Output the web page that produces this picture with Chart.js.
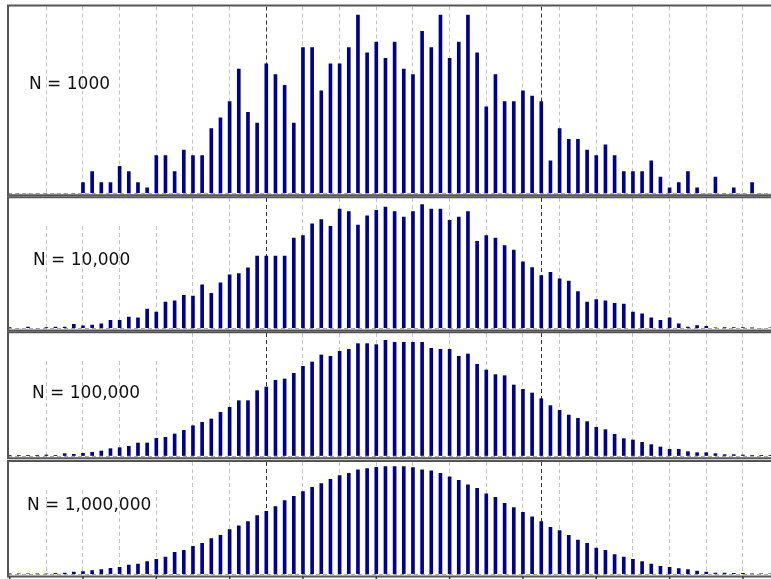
<!DOCTYPE html>
<html lang="en">
<head>
<meta charset="UTF-8">
<title>Histograms for growing sample size</title>
<style>
    html, body { margin: 0; padding: 0; background: #fff; }
    body { width: 771px; height: 579px; overflow: hidden; position: relative; }
    canvas { position: absolute; }
</style>
</head>
<body>
<canvas id="p1"></canvas>
<canvas id="p2"></canvas>
<canvas id="p3"></canvas>
<canvas id="p4"></canvas>

<script src="https://cdn.jsdelivr.net/npm/chart.js"></script>
<script>
// bin index of each bar, left to right
var bins = [-8, -7, -6, -5, -4, -3, -2, -1, 0, 1, 2, 3, 4, 5, 6, 7, 8, 9,
    10, 11, 12, 13, 14, 15, 16, 17, 18, 19, 20, 21, 22, 23, 24, 25, 26, 27, 28, 29,
    30, 31, 32, 33, 34, 35, 36, 37, 38, 39, 40, 41, 42, 43, 44, 45, 46, 47, 48, 49,
    50, 51, 52, 53, 54, 55, 56, 57, 58, 59, 60, 61, 62, 63, 64, 65, 66, 67, 68, 69,
    70, 71, 72, 73, 74, 75];

// dashed grid every 4 bins, darker lines at the two marked bins
var gridBins = [-4, 0, 4, 8, 12, 16, 20, 24, 28, 32, 36, 40, 44, 48, 50, 52, 56, 60, 64, 68, 72, 76];
var markedBins = [20, 50];
var tickBins = [-8, 0, 8, 16, 24, 32, 40, 48, 56, 64, 72];

var counts1000 = [0, 0, 0, 0, 0, 0, 0, 0,
    2, 4, 2, 2, 5, 4, 2, 1, 7, 7, 4, 8, 7, 7, 12, 14, 17, 23, 15, 13,
    24, 22, 20, 13, 27, 27, 19, 24, 24, 27, 33, 26, 28, 25, 28, 23, 22, 30, 27, 33,
    25, 28, 33, 26, 16, 22, 17,
    17, 19, 18, 17, 6, 12, 10, 10, 8, 7, 9, 7, 4, 4, 4, 6, 3, 1, 2, 4,
    1, 0, 3, 0, 1, 0, 2, 0, 0];

var counts10000 = [2, 0, 3, 0, 2, 3, 3, 10,
    6, 8, 11, 20, 20, 28, 26, 48, 40, 65,
    68, 82, 80, 108, 87, 113, 133, 136, 150, 179,
    179, 179, 179, 224, 230, 259, 270, 253, 296, 290,
    256, 279, 293, 301, 290, 276, 290, 307, 296, 296,
    268, 276, 290, 216, 230, 224, 205, 194, 165, 151,
    131, 139, 123, 117, 91, 65, 71, 68, 62, 60,
    40, 36, 26, 20, 26, 11, 3, 7, 5, 1,
    2, 2, 2, 1, 0, 1];

var counts100000 = [4, 9, 9, 9, 26, 17, 61, 43,
    70, 96, 130, 191, 217, 252, 339, 339, 461, 487,
    574, 670, 791, 878, 965, 1139, 1269, 1443, 1443, 1704,
    1800, 1974, 2009, 2156, 2339, 2452, 2635, 2600, 2730, 2782,
    2930, 2930, 2904, 3017, 2965, 2965, 2965, 2965, 2808, 2782,
    2782, 2600, 2661, 2391, 2243, 2122, 2095, 1852, 1739, 1643,
    1496, 1313, 1191, 1069, 983, 896, 748, 687, 565, 452,
    417, 356, 296, 235, 174, 174, 113, 87, 87, 61,
    35, 35, 26, 17, 9, 4];

var counts1000000 = [47, 94, 94, 94, 94, 281, 374, 655,
    749, 1029, 1310, 1684, 1965, 2620, 2901, 3556, 4211, 4866,
    6176, 6737, 7860, 8702, 10012, 10948, 12538, 13568, 14784, 16468,
    17685, 18995, 20679, 21895, 23205, 24422, 25451, 26667, 27697, 28352,
    29287, 29662, 30036, 30223, 30223, 30223, 29942, 29287, 29007, 28352,
    27322, 26387, 25077, 24141, 22550, 21615, 19930, 18714, 17404, 16094,
    14784, 13193, 12258, 10948, 9638, 8702, 7392, 6737, 5521, 4866,
    4211, 3556, 2901, 2246, 1965, 1591, 1310, 936, 655, 374,
    374, 281, 281, 94, 94, 94];

var panelLabels = ['N = 1000', 'N = 10,000', 'N = 100,000', 'N = 1,000,000'];
var panelMax = [34.6, 323.4, 3208, 31514];

// page layout of the four stacked frames
var panels = [
    { id: 'p1', counts: counts1000,    frameTop: 5.5,   chartTop: 6.5, baseline: 193.3, frameBottom: 195.3, labelX: 29, labelY: 85,  mask: false },
    { id: 'p2', counts: counts10000,   frameTop: 197.3, chartTop: 198, baseline: 328.3, frameBottom: 330.5, labelX: 33, labelY: 261, mask: true },
    { id: 'p3', counts: counts100000,  frameTop: 332.3, chartTop: 333, baseline: 456,   frameBottom: 458.3, labelX: 32, labelY: 394, mask: true },
    { id: 'p4', counts: counts1000000, frameTop: 461,   chartTop: 462, baseline: 574.3, frameBottom: 576.5, labelX: 27, labelY: 506, mask: true, ticks: true }
];

var canvasLeft = 6, canvasWidth = 820, areaLeft = 8;
var pxPerBin = 9.166;
var xMin = -8.18;
var xMax = xMin + (canvasLeft + canvasWidth - areaLeft) / pxPerBin;

var panelDeco = {
    id: 'panelDeco',
    beforeDatasetsDraw: function(chart, args, opts) {
        if (!opts.mask) return;
        var ctx = chart.ctx, a = chart.chartArea;
        ctx.save();
        ctx.fillStyle = '#fff';
        ctx.fillRect(a.left + 1, a.top, 165 - canvasLeft - a.left, 25);
        ctx.restore();
    },
    afterDatasetsDraw: function(chart, args, opts) {
        var ctx = chart.ctx;
        ctx.save();
        ctx.fillStyle = '#111';
        ctx.font = '17px "DejaVu Sans", Verdana, sans-serif';
        ctx.textBaseline = 'middle';
        ctx.fillText(opts.label, opts.labelX, opts.labelY);
        ctx.restore();
    },
    afterDraw: function(chart, args, opts) {
        var ctx = chart.ctx, a = chart.chartArea;
        ctx.save();
        ctx.strokeStyle = '#555';
        ctx.lineWidth = 2;
        ctx.beginPath();
        ctx.moveTo(a.right + 5, opts.frameTop);
        ctx.lineTo(a.left, opts.frameTop);
        ctx.lineTo(a.left, opts.frameBottom);
        ctx.lineTo(a.right + 5, opts.frameBottom);
        ctx.stroke();
        if (opts.ticks) {
            var xs = chart.scales.x;
            ctx.strokeStyle = '#333';
            ctx.lineWidth = 1.5;
            tickBins.forEach(function(v) {
                var px = xs.getPixelForValue(v);
                ctx.beginPath();
                ctx.moveTo(px, opts.frameBottom);
                ctx.lineTo(px, opts.frameBottom + 5);
                ctx.stroke();
            });
        }
        ctx.restore();
    }
};

panels.forEach(function(p, k) {
    var canvas = document.getElementById(p.id);
    var top = Math.floor(p.frameTop) - 2;
    var bottom = Math.ceil(p.frameBottom) + (p.ticks ? 6 : 2);
    canvas.width = canvasWidth;
    canvas.height = bottom - top;
    canvas.style.left = canvasLeft + 'px';
    canvas.style.top = top + 'px';

    var points = bins.map(function(b, i) { return { x: b, y: p.counts[i] }; });

    new Chart(canvas, {
        type: 'bar',
        data: {
            datasets: [{
                data: points,
                backgroundColor: '#000090',
                borderWidth: 0,
                barThickness: 3
            }]
        },
        options: {
            responsive: false,
            animation: false,
            layout: {
                padding: {
                    left: areaLeft - canvasLeft,
                    right: 0,
                    top: p.chartTop - top,
                    bottom: bottom - p.baseline
                }
            },
            plugins: {
                legend: { display: false },
                tooltip: { enabled: false },
                panelDeco: {
                    label: panelLabels[k],
                    labelX: p.labelX - canvasLeft,
                    labelY: p.labelY - top,
                    frameTop: p.frameTop - top,
                    frameBottom: p.frameBottom - top,
                    mask: p.mask,
                    ticks: p.ticks
                }
            },
            scales: {
                x: {
                    type: 'linear',
                    min: xMin,
                    max: xMax,
                    bounds: 'data',
                    offset: false,
                    grid: {
                        offset: false,
                        drawTicks: false,
                        lineWidth: 1,
                        color: function(c) {
                            return markedBins.indexOf(c.tick.value) >= 0 ? '#333' : '#c4c4c4';
                        }
                    },
                    border: { display: false, dash: [4, 3] },
                    ticks: { display: false },
                    afterBuildTicks: function(s) {
                        s.ticks = gridBins.map(function(v) { return { value: v }; });
                    }
                },
                y: {
                    min: 0,
                    max: panelMax[k],
                    grid: { drawTicks: false, color: '#aaa', lineWidth: 1 },
                    border: { display: false, dash: [4, 3] },
                    ticks: { display: false },
                    afterBuildTicks: function(s) {
                        s.ticks = [{ value: 0 }];
                    }
                }
            }
        },
        plugins: [panelDeco]
    });
});
</script>
</body>
</html>
